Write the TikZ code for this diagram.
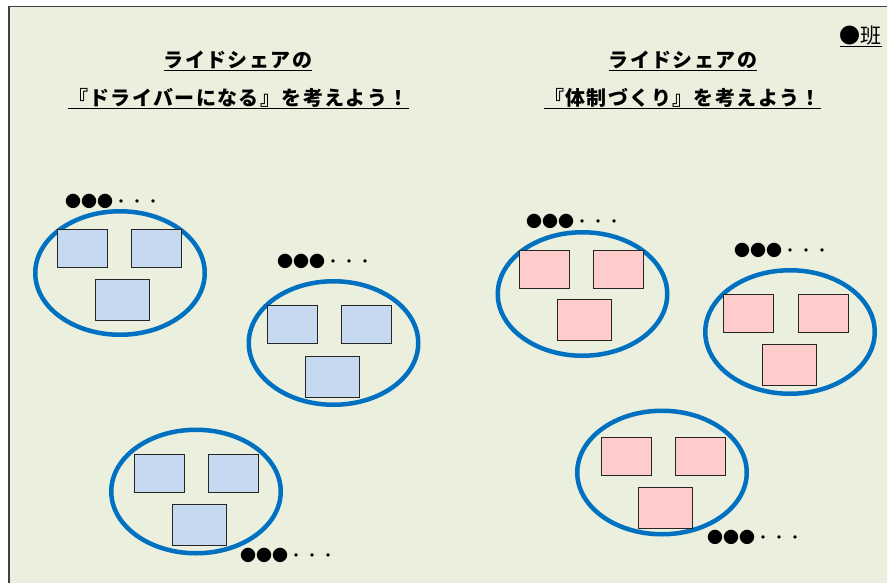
\documentclass[tikz,border=0pt]{standalone}
\usepackage{fontspec}
\setmainfont{Noto Sans CJK JP}
\usetikzlibrary{shapes.geometric, positioning}
\definecolor{sheet}{RGB}{235,240,222}
\definecolor{ringblue}{RGB}{0,112,192}
\definecolor{driverblue}{RGB}{198,217,241}
\definecolor{systempink}{RGB}{255,204,204}
\tikzset{
  ring/.style={
    ellipse, draw=ringblue, line width=4.5pt,
    minimum width=169.5pt, minimum height=123.5pt, inner sep=0pt
  },
  card/.style={
    draw=black!85, line width=1pt, inner sep=0pt,
    minimum width=50pt, minimum height=38pt
  },
  widecard/.style={card, minimum width=54pt, minimum height=41pt},
  members/.style={anchor=west, inner sep=0pt, font=\fontsize{16}{16}\selectfont},
  heading/.style={
    anchor=base, inner sep=0pt,
    font=\fontsize{20}{20}\selectfont\bfseries\addfontfeature{LetterSpace=7}
  }
}
\begin{document}
\begin{tikzpicture}[x=1pt, y=-1pt]
          \useasboundingbox (0,0) rectangle (887,582);
          \draw[fill=sheet, draw=black!75, line width=1.2pt] (9,6.5) rectangle (900,600);

          \node[heading] (lefthead) at (238,67) {\underline{ライドシェアの}};
          \node[heading] (leftsub) at (238.5,105) {\underline{『ドライバーになる』を考えよう！}};
          \node[heading] (righthead) at (683,67) {\underline{ライドシェアの}};
          \node[heading] (rightsub) at (682.5,105) {\underline{『体制づくり』を考えよう！}};
          \node[anchor=base east, inner sep=0pt, font=\fontsize{21}{21}\selectfont] (team) at (882,43) {\underline{●班}};

          \node[ring] (drv1) at (120,273) {};
          \node[card, fill=driverblue] (drv1a) at (82,248.5) {};
          \node[card, fill=driverblue] (drv1b) at (156,248.5) {};
          \node[widecard, fill=driverblue] (drv1c) at (122,299.5) {};
          \node[members] (drv1n) at (65,201) {●●●・・・};

          \node[ring] (drv2) at (333.5,343) {};
          \node[card, fill=driverblue] (drv2a) at (292,324) {};
          \node[card, fill=driverblue] (drv2b) at (366,324) {};
          \node[widecard, fill=driverblue] (drv2c) at (332,376.5) {};
          \node[members] (drv2n) at (277,261) {●●●・・・};

          \node[ring] (drv3) at (196,491.5) {};
          \node[card, fill=driverblue] (drv3a) at (159,473.5) {};
          \node[card, fill=driverblue] (drv3b) at (233.5,473.5) {};
          \node[widecard, fill=driverblue] (drv3c) at (199.5,525) {};
          \node[members] (drv3n) at (240,555) {●●●・・・};

          \node[ring] (sys1) at (582.5,294) {};
          \node[card, fill=systempink] (sys1a) at (544,269) {};
          \node[card, fill=systempink] (sys1b) at (618.5,269) {};
          \node[widecard, fill=systempink] (sys1c) at (584.5,320) {};
          \node[members] (sys1n) at (526,221) {●●●・・・};

          \node[ring] (sys2) at (790,332) {};
          \node[card, fill=systempink] (sys2a) at (748.5,313) {};
          \node[card, fill=systempink] (sys2b) at (823,313) {};
          \node[widecard, fill=systempink] (sys2c) at (789,364.5) {};
          \node[members] (sys2n) at (734,250) {●●●・・・};

          \node[ring] (sys3) at (662,472.5) {};
          \node[card, fill=systempink] (sys3a) at (626,456) {};
          \node[card, fill=systempink] (sys3b) at (700,456) {};
          \node[widecard, fill=systempink] (sys3c) at (665.5,507.5) {};
          \node[members] (sys3n) at (707,537) {●●●・・・};
        \end{tikzpicture}
\end{document}
